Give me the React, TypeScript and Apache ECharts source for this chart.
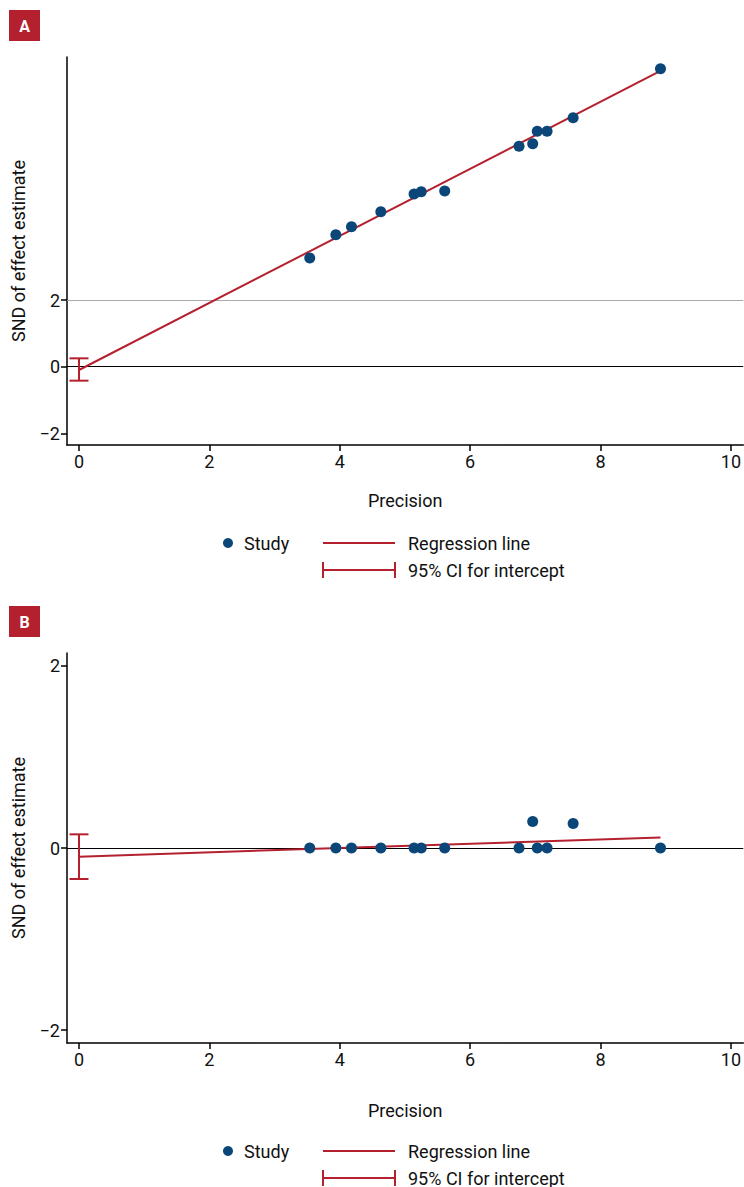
import React, { useEffect, useRef } from "react";
import * as echarts from "echarts";

const precision = [3.54, 3.94, 4.18, 4.63, 5.14, 5.25, 5.61, 6.75, 6.96, 7.03, 7.18, 7.58, 8.92];
const sndA = [3.26, 3.96, 4.2, 4.65, 5.18, 5.25, 5.27, 6.61, 6.69, 7.06, 7.06, 7.47, 8.94];
const sndB = [0, 0, 0, 0, 0, 0, 0, 0, 0.29, 0, 0, 0.27, 0];
const regA = { intercept: -0.1, slope: 1.006 };
const regB = { intercept: -0.095, slope: 0.0237 };
const ciA = [-0.42, 0.25];
const ciB = [-0.34, 0.15];
const xTicks = [0, 2, 4, 6, 8, 10];
const yTicks = [-2, 0, 2];
const panelLabels = ["A", "B"];

const RED = "#b5202e";
const BLUE = "#0b4678";
const FONT = "Roboto, sans-serif";

export default function App() {
  const ref = useRef<HTMLDivElement>(null);
  useEffect(() => {
    const chart = echarts.init(ref.current!, null, { renderer: "svg" });
    const xMax = Math.max(...precision);
    const grids = [
      { left: 67, top: 57, width: 677, height: 388 },
      { left: 67, top: 653, width: 677, height: 390 },
    ];
    const yRanges = [
      [-2.35, 9.29],
      [-2.14, 2.14],
    ];
    const xNameGaps = [46, 58];
    const fmt = (v: number) => String(v).replace("-", "\u2212");
    const mkX = (i: number) => ({
      type: "value",
      gridIndex: i,
      min: -0.184,
      max: 10.19,
      name: "Precision",
      nameLocation: "middle",
      nameGap: xNameGaps[i],
      nameTextStyle: { fontFamily: FONT, fontSize: 18, color: "#111" },
      axisLine: { show: true, onZero: false, lineStyle: { color: "#000", width: 1.5 } },
      axisTick: { show: true, customValues: xTicks, length: 6, lineStyle: { color: "#000", width: 1.5 } },
      axisLabel: { customValues: xTicks, formatter: fmt, fontFamily: FONT, fontSize: 18, color: "#111", margin: 7 },
      splitLine: { show: false },
    });
    const mkY = (i: number) => ({
      type: "value",
      gridIndex: i,
      min: yRanges[i][0],
      max: yRanges[i][1],
      name: "SND of effect estimate",
      nameLocation: "middle",
      nameRotate: 90,
      nameGap: 40,
      nameTextStyle: { fontFamily: FONT, fontSize: 18, color: "#111" },
      axisLine: { show: true, onZero: false, lineStyle: { color: "#000", width: 1.5 } },
      axisTick: { show: true, customValues: yTicks, length: 6, lineStyle: { color: "#000", width: 1.5 } },
      axisLabel: { customValues: yTicks, formatter: fmt, fontFamily: FONT, fontSize: 18, color: "#111", margin: 7 },
      splitLine: { show: false },
    });
    const series: any[] = [];
    const sets = [
      { snd: sndA, reg: regA, ci: ciA, ref2: true },
      { snd: sndB, reg: regB, ci: ciB, ref2: false },
    ];
    sets.forEach((s, i) => {
      const mlData: any[] = [{ yAxis: 0, lineStyle: { color: "#000", width: 1, type: "solid" } }];
      if (s.ref2) mlData.unshift({ yAxis: 2, lineStyle: { color: "#aaa", width: 1, type: "solid" } });
      series.push({
        type: "line",
        xAxisIndex: i,
        yAxisIndex: i,
        data: [
          [0, s.reg.intercept],
          [xMax, s.reg.intercept + s.reg.slope * xMax],
        ],
        showSymbol: false,
        symbol: "none",
        lineStyle: { color: RED, width: 2 },
        z: 3,
        markLine: { silent: true, symbol: "none", label: { show: false }, data: mlData, z: 1 },
      });
      series.push({
        type: "scatter",
        xAxisIndex: i,
        yAxisIndex: i,
        data: precision.map((p, k) => [p, s.snd[k]]),
        symbolSize: 11,
        itemStyle: { color: BLUE, opacity: 1 },
        z: 4,
      });
      series.push({
        type: "custom",
        xAxisIndex: i,
        yAxisIndex: i,
        data: [[0, s.ci[0], s.ci[1]]],
        z: 5,
        renderItem: (params: any, api: any) => {
          const lo = api.coord([api.value(0), api.value(1)]);
          const hi = api.coord([api.value(0), api.value(2)]);
          const w = 9.5;
          const st = { stroke: RED, lineWidth: 2 };
          return {
            type: "group",
            children: [
              { type: "line", shape: { x1: lo[0], y1: lo[1], x2: hi[0], y2: hi[1] }, style: st },
              { type: "line", shape: { x1: lo[0] - w, y1: lo[1], x2: lo[0] + w, y2: lo[1] }, style: st },
              { type: "line", shape: { x1: hi[0] - w, y1: hi[1], x2: hi[0] + w, y2: hi[1] }, style: st },
            ],
          };
        },
      });
    });

    const graphic: any[] = [];
    const labelTops = [10, 606];
    const legendYs = [543, 1151];
    panelLabels.forEach((lab, i) => {
      graphic.push({
        type: "rect",
        shape: { x: 9, y: labelTops[i], width: 31, height: 31 },
        style: { fill: RED },
      });
      graphic.push({
        type: "text",
        x: 24.5,
        y: labelTops[i] + 16,
        style: {
          text: lab,
          fill: "#fff",
          fontFamily: FONT,
          fontWeight: "bold",
          fontSize: 16,
          align: "center",
          verticalAlign: "middle",
        },
      });
      const ly = legendYs[i];
      const ly2 = ly + 27;
      const ts = { fill: "#111", fontFamily: FONT, fontSize: 18, verticalAlign: "middle", align: "left" };
      graphic.push({ type: "circle", shape: { cx: 228, cy: ly, r: 5 }, style: { fill: BLUE } });
      graphic.push({ type: "text", x: 244, y: ly, style: { ...ts, text: "Study" } });
      graphic.push({ type: "line", shape: { x1: 323, y1: ly, x2: 395, y2: ly }, style: { stroke: RED, lineWidth: 2 } });
      graphic.push({ type: "text", x: 408, y: ly, style: { ...ts, text: "Regression line" } });
      graphic.push({ type: "line", shape: { x1: 323, y1: ly2, x2: 395, y2: ly2 }, style: { stroke: RED, lineWidth: 2 } });
      graphic.push({ type: "line", shape: { x1: 323, y1: ly2 - 8, x2: 323, y2: ly2 + 8 }, style: { stroke: RED, lineWidth: 2 } });
      graphic.push({ type: "line", shape: { x1: 395, y1: ly2 - 8, x2: 395, y2: ly2 + 8 }, style: { stroke: RED, lineWidth: 2 } });
      graphic.push({ type: "text", x: 408, y: ly2, style: { ...ts, text: "95% CI for intercept" } });
    });

    chart.setOption({
      animation: false,
      backgroundColor: "#fff",
      grid: grids,
      xAxis: [mkX(0), mkX(1)],
      yAxis: [mkY(0), mkY(1)],
      series,
      graphic,
    });
    return () => chart.dispose();
  }, []);
  return (
    <div
      ref={ref}
      style={{ position: "absolute", left: 0, top: 0, width: 744, height: 1187 }}
    />
  );
}
